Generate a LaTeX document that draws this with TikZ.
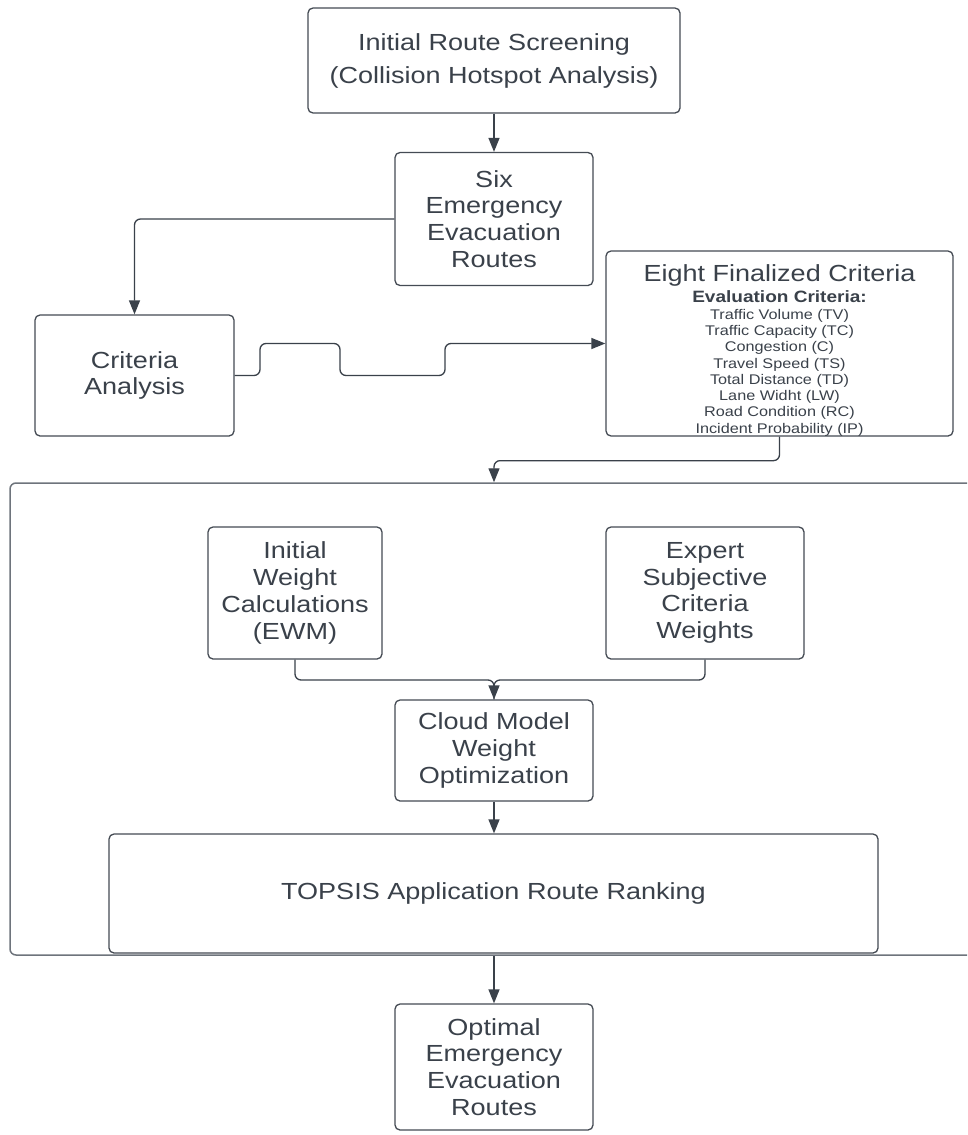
\documentclass[tikz,border=0pt]{standalone}
\usepackage{fontspec}
\setmainfont{Liberation Sans}[FakeStretch=1.16]
\usetikzlibrary{arrows.meta}
\definecolor{ink}{HTML}{3A414A}
\definecolor{frame}{HTML}{454B54}
\definecolor{grpline}{HTML}{6E747C}
\begin{document}
\begin{tikzpicture}[x=1pt,y=-1pt,
  box/.style={draw=frame, line width=1.3pt, rounded corners=5pt, fill=white, align=center,
    text=ink, inner sep=0pt, font=\fontsize{23.3}{26.7}\selectfont},
  conn/.style={draw=ink, line width=1.3pt, rounded corners=6pt},
  arr/.style={conn, -{Triangle[length=14pt,width=11pt]}}]
\useasboundingbox (0,0) rectangle (967,1135);
\clip (0,0) rectangle (967,1135);
\fill[white] (0,0) rectangle (967,1135);

% group container
\node[draw=grpline, line width=1.5pt, rounded corners=6pt, minimum width=980pt,
  minimum height=472pt, inner sep=0pt] (grp) at (500,719) {};

\node[box, minimum width=372pt, minimum height=105pt, font=\fontsize{23.3}{33}\selectfont]
  (screen) at (494,60.5) {Initial Route Screening\\(Collision Hotspot Analysis)};
\node[box, minimum width=198pt, minimum height=133pt] (six) at (494,219)
  {Six\\Emergency\\Evacuation\\Routes};
\node[box, minimum width=199pt, minimum height=121pt] (crit) at (134.5,375.5)
  {Criteria\\Analysis};
\node[box, minimum width=347pt, minimum height=185pt] (eight) at (779.5,343.5) {};
\node[anchor=north, align=center, text=ink, inner sep=0pt, font=\fontsize{14}{16.3}\selectfont]
  (eighttxt) at (779.5,264)
  {{\fontsize{23.3}{23.3}\selectfont Eight Finalized Criteria}\\[4pt]
   {\bfseries\fontsize{16.4}{16}\selectfont Evaluation Criteria:}\\
   Traffic Volume (TV)\\
   Traffic Capacity (TC)\\
   Congestion (C)\\
   Travel Speed (TS)\\
   Total Distance (TD)\\
   Lane Widht (LW)\\
   Road Condition (RC)\\
   Incident Probability (IP)};

\node[box, minimum width=174pt, minimum height=132pt] (iw) at (295,593)
  {Initial\\Weight\\Calculations\\(EWM)};
\node[box, minimum width=198pt, minimum height=132pt] (exp) at (705,593)
  {Expert\\Subjective\\Criteria\\Weights};
\node[box, minimum width=198pt, minimum height=101pt] (cloud) at (494,750.5)
  {Cloud Model\\Weight\\Optimization};
\node[box, minimum width=769pt, minimum height=119pt]
  (topsis) at (493.5,893.5) {TOPSIS Application Route Ranking};
\node[box, minimum width=198pt, minimum height=126pt] (opt) at (494,1067)
  {Optimal\\Emergency\\Evacuation\\Routes};

\coordinate (j) at (494,680);

% connectors
\draw[arr] (screen.south) -- (six.north);
\draw[arr] (six.west) -| (crit.north);
\draw[arr] (crit.east) -- (260,375.5) -- (260,343.5) -- (340,343.5) -- (340,375.5)
  -- (445,375.5) -- (445,343.5) -- (eight.west);
\draw[arr] (eight.south) -- ++(0,24) -| (grp.north -| screen.south);
\draw[conn] (iw.south) |- (j) -- (cloud.north);
\draw[arr] (exp.south) |- (j) -- (cloud.north);
\draw[arr] (cloud.south) -- (topsis.north -| cloud.south);
\draw[arr] (grp.south -| opt.north) -- (opt.north);
\end{tikzpicture}
\end{document}
